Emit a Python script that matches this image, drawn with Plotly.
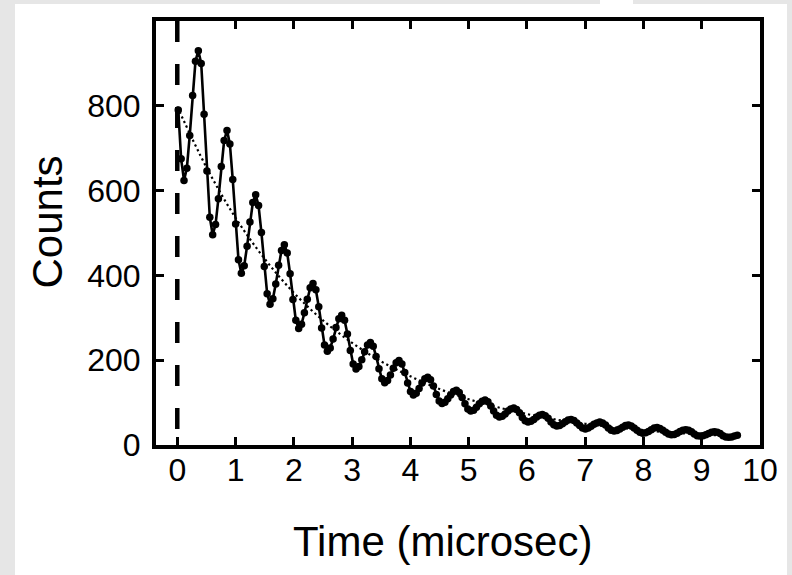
import plotly.graph_objects as go

# ---- data ----
bin_start = 0.0172      # microsec, first sample
bin_width = 0.0492      # microsec between samples
counts = [
    790, 675, 624, 653, 730, 824, 905, 930, 900, 780,
    646, 537, 496, 520, 581, 657, 718, 742, 710, 626,
    521, 437, 405, 423, 469, 526, 572, 590, 565, 501,
    421, 357, 332, 345, 380, 424, 459, 472, 453, 404,
    343, 294, 275, 285, 312, 344, 371, 381, 366, 326,
    276, 236, 221, 229, 250, 277, 298, 306, 294, 262,
    223, 191, 179, 185, 201, 220, 236, 242, 233, 209,
    180, 156, 147, 152, 165, 181, 194, 199, 191, 171,
    146, 126, 118, 122, 133, 146, 156, 160, 154, 139,
    119, 104, 98, 101, 109, 118, 126, 129, 124, 112,
    97, 85, 80, 82, 89, 97, 103, 106, 102, 92,
    80, 70, 66, 68, 73, 80, 85, 87, 84, 76,
    65, 57, 54, 56, 60, 66, 70, 72, 69, 63,
    54, 48, 45, 46, 50, 55, 59, 60, 58, 52,
    46, 40, 38, 40, 44, 49, 52, 54, 52, 47,
    40, 35, 33, 34, 38, 42, 46, 47, 45, 40,
    35, 30, 28, 29, 32, 36, 40, 41, 39, 35,
    30, 26, 24, 25, 28, 32, 35, 36, 35, 31,
    26, 22, 21, 22, 24, 27, 30, 31, 30, 27,
    22, 19, 18, 19, 21, 23,
]
times = [round(bin_start + bin_width * i, 4) for i in range(len(counts))]

fit_times = [0.0, 0.5, 1.0, 1.5, 2.0, 2.5, 3.0, 3.5, 4.0, 4.5, 5.0,
             5.5, 6.0, 6.5, 7.0, 7.5, 8.0, 8.5, 9.0, 9.5, 9.66]
fit_counts = [798, 655, 536, 439, 359, 294, 241, 197, 162, 132, 108,
              89, 73, 60, 50, 42, 35, 29, 25, 21, 20]

x_ticks = [0, 1, 2, 3, 4, 5, 6, 7, 8, 9, 10]
y_ticks = [0, 200, 400, 600, 800]
x_title = "Time (microsec)"
y_title = "Counts"

# ---- layout geometry ----
W, H = 792, 575
L, R, T, B = 156, 32, 21, 130
pw, ph = W - L - R, H - T - B

def px_x(p):
    return (p - L) / pw

def px_y(p):
    return (H - B - p) / ph

FONT = "Liberation Sans, Arial, Helvetica, sans-serif"

fig = go.Figure()
fig.add_trace(go.Scatter(
    x=fit_times, y=fit_counts, mode="lines",
    line=dict(color="black", width=2.2, dash="2.2px,3px", shape="spline"),
    hoverinfo="skip", showlegend=False))
fig.add_trace(go.Scatter(
    x=times, y=counts, mode="lines+markers",
    line=dict(color="black", width=2.6),
    marker=dict(color="black", size=7.5),
    showlegend=False))

shapes = [
    dict(type="rect", xref="paper", yref="paper",
         x0=px_x(15), x1=px_x(787), y0=px_y(580), y1=px_y(4),
         fillcolor="white", line=dict(width=0), layer="below"),
    dict(type="rect", xref="paper", yref="paper",
         x0=px_x(600), x1=px_x(633), y0=px_y(5), y1=px_y(-1),
         fillcolor="white", line=dict(width=0), layer="below"),
    dict(type="line", xref="x", yref="y", x0=0, x1=0, y0=1000, y1=0,
         line=dict(color="black", width=4.5, dash="21px,22px"), layer="above"),
]

axis_common = dict(
    showgrid=False, zeroline=False, showline=True, linecolor="black",
    linewidth=4, mirror="ticks", ticks="inside", ticklen=8, tickwidth=3,
    tickcolor="black", tickfont=dict(family=FONT, size=32, color="black"),
)

fig.update_layout(
    width=W, height=H,
    margin=dict(l=L, r=R, t=T, b=B),
    paper_bgcolor="#e6e6e6", plot_bgcolor="white",
    xaxis=dict(range=[-0.365, 10.0], tickvals=x_ticks,
               ticktext=[str(v) for v in x_ticks],
               ticklabelstandoff=-6, **axis_common),
    yaxis=dict(range=[0, 1000], tickvals=y_ticks,
               ticktext=[str(v) for v in y_ticks],
               ticklabelstandoff=5, **axis_common),
    shapes=shapes,
    annotations=[
        dict(text=x_title, xref="paper", yref="paper",
             x=px_x(442.5), y=px_y(541), xanchor="center", yanchor="middle",
             showarrow=False, font=dict(family=FONT, size=42, color="black")),
        dict(text=y_title, xref="paper", yref="paper",
             x=px_x(47), y=px_y(222.5), xanchor="center", yanchor="middle",
             textangle=-90, showarrow=False,
             font=dict(family=FONT, size=42, color="black")),
    ],
)

fig.write_html("out.html",
               config={"displayModeBar": False},
               post_script="document.body.style.margin='0';document.body.style.padding='0';")
